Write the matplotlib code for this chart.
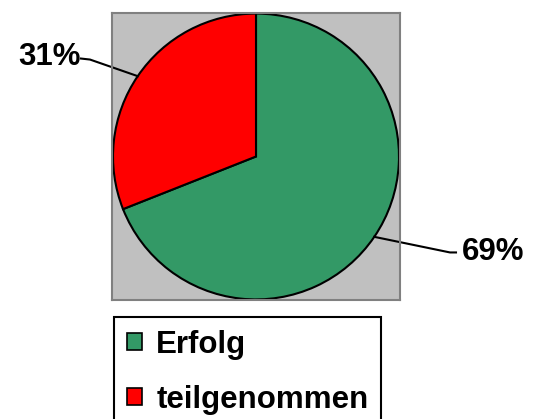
import numpy as np
import matplotlib
matplotlib.use("Agg")
import matplotlib.pyplot as plt
from matplotlib.patches import Patch

categories = ["Erfolg", "teilgenommen"]
values = [69, 31]
colors = ["#339966", "#FF0000"]
labels = ["69%", "31%"]

W, H = 545, 419
fig = plt.figure(figsize=(W / 100, H / 100), dpi=100)
fig.patch.set_facecolor("white")

FONT = "Liberation Sans"
FS = 22.5

# plot area box (pixels): x 112..400, y 13..300
ax = fig.add_axes([112 / W, (H - 300) / H, 288 / W, 287 / H])

wedges, _ = ax.pie(values, colors=colors, startangle=90, counterclock=False,
                   frame=True,
                   wedgeprops=dict(edgecolor="black", linewidth=1.5))
ax.set_facecolor("#C0C0C0")
for s in ax.spines.values():
    s.set_color("#808080")
    s.set_linewidth(1.5)
ax.set_xticks([])
ax.set_yticks([])
ax.set_xlim(-1.007, 1.007)
ax.set_ylim(-1.004, 1.004)
ax.set_aspect("auto")

px = 143.0  # pixels per data unit


def to_data(x, y):
    return (x - 256) / px, (157 - y) / px


for w, lab in zip(wedges, labels):
    mid = np.deg2rad((w.theta1 + w.theta2) / 2)
    p0 = (np.cos(mid), np.sin(mid))
    if p0[0] < 0:
        elbow = to_data(90, 60)
        end = to_data(81, 59)
        ax.plot([p0[0], elbow[0], end[0]], [p0[1], elbow[1], end[1]],
                color="black", lw=1.5, clip_on=False)
        ax.text(end[0] - 0.005, end[1] + 0.01, lab, ha="right", va="center",
                fontsize=FS, fontweight="bold", family=FONT, clip_on=False)
    else:
        elbow = to_data(450, 253)
        end = to_data(456, 253)
        ax.plot([p0[0], elbow[0], end[0]], [p0[1], elbow[1], end[1]],
                color="black", lw=1.5, clip_on=False)
        ax.text(end[0] + 0.04, end[1], lab, ha="left", va="center",
                fontsize=FS, fontweight="bold", family=FONT, clip_on=False)

handles = [Patch(facecolor=c, edgecolor="black", linewidth=1.2) for c in colors]
leg = fig.legend(handles, categories, loc="upper left",
                 bbox_to_anchor=(114 / W, (H - 317) / H), borderaxespad=0,
                 prop=dict(family=FONT, weight="bold", size=FS),
                 handlelength=0.5, handleheight=0.5, handletextpad=0.45,
                 borderpad=0.4, labelspacing=0.8, fancybox=False,
                 framealpha=1, edgecolor="black")
leg.get_frame().set_linewidth(1.5)

fig.savefig("out.png", dpi=100)
